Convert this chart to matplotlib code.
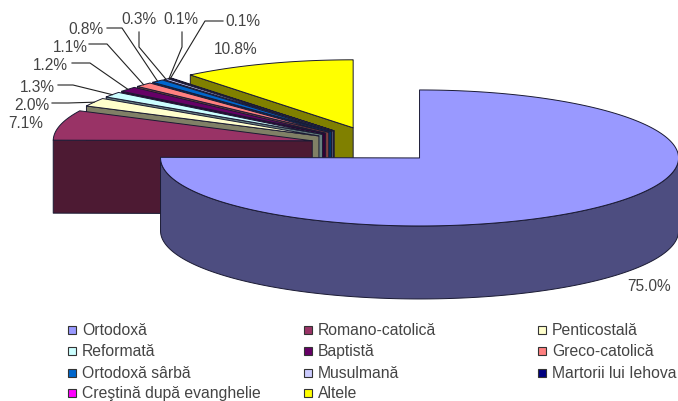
import numpy as np
import matplotlib
matplotlib.use('Agg')
import matplotlib.pyplot as plt
from matplotlib.patches import Polygon, Rectangle

plt.rcParams['font.family'] = ['Liberation Sans', 'DejaVu Sans']

# data
religions = ['Ortodoxă', 'Romano-catolică', 'Penticostală', 'Reformată', 'Baptistă',
             'Greco-catolică', 'Ortodoxă sârbă', 'Musulmană', 'Martorii lui Iehova',
             'Creştină după evanghelie', 'Altele']
shares = [75.0, 7.1, 2.0, 1.3, 1.2, 1.1, 0.8, 0.3, 0.1, 0.1, 10.8]

top_colors = ['#9999ff', '#993366', '#ffffcc', '#ccffff', '#660066', '#ff8080',
              '#0066cc', '#ccccff', '#000080', '#ff00ff', '#ffff00']
side_colors = ['#4d4d80', '#4d1a33', '#808066', '#668080', '#330033', '#804040',
               '#003366', '#666680', '#000040', '#800080', '#808000']

# label anchors in pixels, None means no leader line
label_pos = [(627, 287), (8, 123), (14, 105), (20, 87), (33, 65), (53, 47),
             (68, 29), (121, 20), (163, 20), (225, 21), (214, 50)]
leader_elbows = [None, None,
                 [(52, 104), (68, 104)], [(58, 86), (73, 86)], [(72, 64), (90, 64)],
                 [(89, 45), (107, 45)], [(107, 29), (122, 29)], [(139, 33), (139, 48)],
                 [(182, 33), (182, 48)], [(223, 22), (205, 22)], None]

# pie geometry, in pixels
cx, cy = 374.5, 146
rx, ry = 259, 68
depth = 73
explode = 64
squash = 0.285

fig = plt.figure(figsize=(6.78, 4.02), dpi=100)
ax = fig.add_axes([0, 0, 1, 1])
ax.set_xlim(0, 678)
ax.set_ylim(402, 0)
ax.axis('off')


def rim(x0, y0, a):
    # a in radians, clockwise from 12 o'clock
    return x0 + rx*np.sin(a), y0 - ry*np.cos(a)


fractions = np.array(shares) / sum(shares)
edges = np.concatenate([[0], np.cumsum(fractions)]) * 2*np.pi
outline = dict(edgecolor='#1a1a33', linewidth=0.7, joinstyle='round')

# back slices first, the big one ends up in front
for i in list(range(len(shares)-1, -1, -1)):
    a1, a2 = edges[i], edges[i+1]
    mid = (a1 + a2) / 2
    x0 = cx + explode*np.sin(mid)
    y0 = cy - explode*squash*np.cos(mid)

    # flat cut wall on the start side
    if i > 0:
        xs, ys = rim(x0, y0, a1)
        wall = [(x0, y0), (xs, ys), (xs, ys+depth), (x0, y0+depth)]
        ax.add_patch(Polygon(wall, closed=True, facecolor=side_colors[i], **outline))
    else:
        # outer wall of the front half
        t = np.linspace(np.pi/2, 3*np.pi/2, 200)
        xw, yw = rim(x0, y0, t)
        pts = np.r_[np.c_[xw, yw], np.c_[xw[::-1], yw[::-1]+depth]]
        ax.add_patch(Polygon(pts, closed=True, facecolor=side_colors[i], **outline))

    t = np.linspace(a1, a2, 300)
    xt, yt = rim(x0, y0, t)
    pts = np.r_[[[x0, y0]], np.c_[xt, yt]]
    ax.add_patch(Polygon(pts, closed=True, facecolor=top_colors[i], **outline))

    # percentage label and its leader line
    lx, ly = label_pos[i]
    ax.text(lx, ly, '%.1f%%' % shares[i], fontsize=11.2, color='#444444',
            ha='left', va='center')
    if leader_elbows[i] is not None:
        xe, ye = rim(x0, y0, mid)
        path = leader_elbows[i] + [(xe, ye)]
        ax.plot([p[0] for p in path], [p[1] for p in path], color='#222222', lw=0.8)

# legend, three columns filled row by row
col_x = [68, 304, 538]
row_y = [331, 352, 374, 394]
for i, name in enumerate(religions):
    x = col_x[i % 3]
    y = row_y[i // 3]
    ax.add_patch(Rectangle((x, y-4), 8, 8, facecolor=top_colors[i],
                           edgecolor='#333333', linewidth=0.8))
    ax.text(x+14, y, name, fontsize=11.3, color='#444444', ha='left', va='center')

fig.savefig('out.png', dpi=100)
